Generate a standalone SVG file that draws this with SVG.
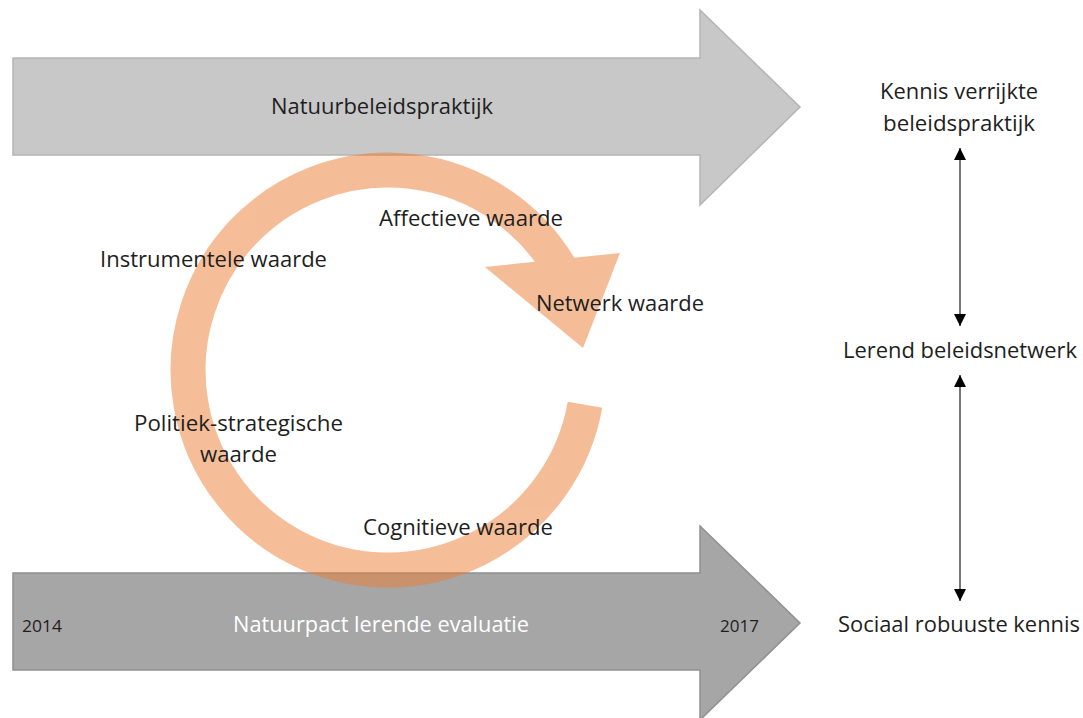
<svg xmlns="http://www.w3.org/2000/svg" width="1083" height="718" viewBox="0 0 1083 718">
<style>
.t{font-family:"Open Sans","Noto Sans","DejaVu Sans",sans-serif;font-size:21px;fill:#1e1e1e;}
.w{fill:#ffffff;}
.y{font-size:17px;}
.conn{stroke:#555555;stroke-width:1.6;fill:none;}
</style>
<defs>
<marker id="ah" viewBox="0 0 12 12" markerWidth="12" markerHeight="12" refX="12" refY="6" orient="auto-start-reverse" markerUnits="userSpaceOnUse">
<path d="M0,0 L12,6 L0,12 z" fill="#000000"/>
</marker>
</defs>
<rect width="1083" height="718" fill="#ffffff"/>

<g id="arrow-beleidspraktijk">
<polygon points="13,58 700,58 700,10 800,107 700,205 700,155 13,155" fill="#C8C8C8" stroke="#B4B4B4" stroke-width="1.5"/>
</g>
<g id="arrow-natuurpact">
<polygon points="13,573 700,573 700,526 800,623 700,720 700,670 13,670" fill="#A6A6A6" stroke="#909090" stroke-width="1.5"/>
</g>

<g id="cycle" opacity="0.5">
<path d="M585,404.7 A200,200 0 1 1 561.2,270" fill="none" stroke="#ED7D31" stroke-width="35"/>
<polygon points="485,267 620,253 583,348" fill="#ED7D31"/>
</g>

<g id="connectors">
<line class="conn" x1="960" y1="148" x2="960" y2="326" marker-start="url(#ah)" marker-end="url(#ah)"/>
<line class="conn" x1="960" y1="375" x2="960" y2="601" marker-start="url(#ah)" marker-end="url(#ah)"/>
</g>

<g id="label-natuurbeleidspraktijk"><text class="t" x="271" y="113.5" textLength="222" lengthAdjust="spacingAndGlyphs">Natuurbeleidspraktijk</text></g>
<g id="label-natuurpact"><text class="t w" x="233" y="632" textLength="296" lengthAdjust="spacingAndGlyphs">Natuurpact lerende evaluatie</text></g>
<g id="year-2014"><text class="t y" x="22" y="632" textLength="40" lengthAdjust="spacingAndGlyphs">2014</text></g>
<g id="year-2017"><text class="t y" x="720" y="632" textLength="39" lengthAdjust="spacingAndGlyphs">2017</text></g>

<g id="node-affectieve"><text class="t" x="379" y="226" textLength="184" lengthAdjust="spacingAndGlyphs">Affectieve waarde</text></g>
<g id="node-instrumentele"><text class="t" x="100" y="266.7" textLength="227" lengthAdjust="spacingAndGlyphs">Instrumentele waarde</text></g>
<g id="node-netwerk"><text class="t" x="536" y="311" textLength="168" lengthAdjust="spacingAndGlyphs">Netwerk waarde</text></g>
<g id="node-politiek">
<text class="t" x="134" y="431" textLength="209" lengthAdjust="spacingAndGlyphs">Politiek-strategische</text>
<text class="t" x="200" y="461.5" textLength="77" lengthAdjust="spacingAndGlyphs">waarde</text>
</g>
<g id="node-cognitieve"><text class="t" x="363" y="535" textLength="190" lengthAdjust="spacingAndGlyphs">Cognitieve waarde</text></g>

<g id="node-kennis-verrijkt">
<text class="t" x="880" y="99" textLength="158" lengthAdjust="spacingAndGlyphs">Kennis verrijkte</text>
<text class="t" x="883" y="131" textLength="152" lengthAdjust="spacingAndGlyphs">beleidspraktijk</text>
</g>
<g id="node-lerend"><text class="t" x="843" y="357.7" textLength="234" lengthAdjust="spacingAndGlyphs">Lerend beleidsnetwerk</text></g>
<g id="node-sociaal"><text class="t" x="838" y="632" textLength="242" lengthAdjust="spacingAndGlyphs">Sociaal robuuste kennis</text></g>
</svg>
